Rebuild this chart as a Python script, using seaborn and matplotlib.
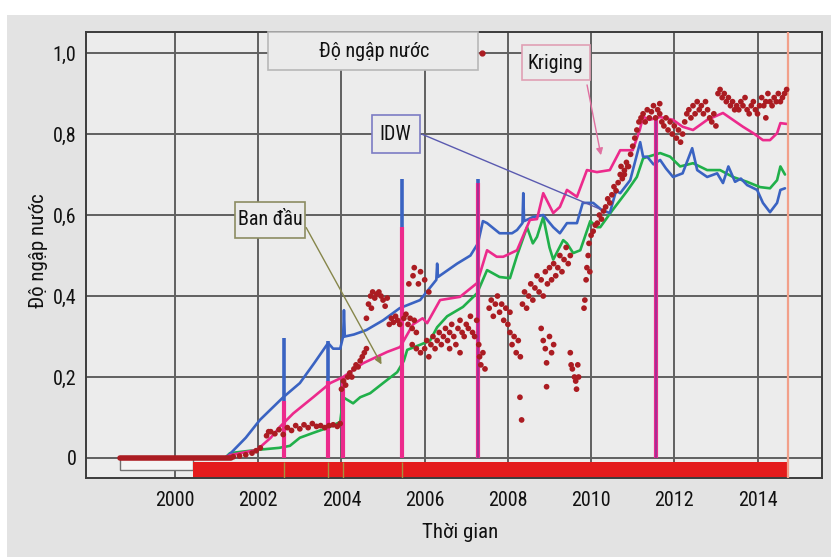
import matplotlib
matplotlib.use("Agg")
import matplotlib.pyplot as plt
import seaborn as sns
import numpy as np
import pandas as pd
from matplotlib.patches import Rectangle
from matplotlib import font_manager as fm

# ---------------- data ----------------
idw_t = [1998.68, 2001.2, 2001.32, 2001.7, 2002.04, 2002.4, 2002.6, 2003.0, 2003.35, 2003.68,
         2003.8, 2003.97, 2004.04, 2004.06, 2004.08, 2004.3, 2004.6, 2005.0, 2005.4, 2005.89,
         2006.28, 2006.3, 2006.32, 2006.78, 2007.1, 2007.28, 2007.4, 2007.5, 2007.8, 2008.1,
         2008.22, 2008.35, 2008.37, 2008.39, 2008.6, 2008.85, 2009.09, 2009.25, 2009.42, 2009.66,
         2009.8, 2010.05, 2010.26, 2010.45, 2010.6, 2010.7, 2010.94, 2011.18, 2011.25, 2011.35,
         2011.5, 2011.66, 2011.8, 2011.97, 2012.2, 2012.43, 2012.55, 2012.79, 2013.03, 2013.17,
         2013.3, 2013.46, 2013.6, 2013.75, 2013.99, 2014.13, 2014.3, 2014.47, 2014.55, 2014.66]
idw_v = [0.0, 0.0, 0.01, 0.05, 0.094, 0.13, 0.15, 0.185, 0.235, 0.284,
         0.27, 0.27, 0.30, 0.365, 0.30, 0.305, 0.316, 0.34, 0.37, 0.39,
         0.44, 0.48, 0.447, 0.48, 0.50, 0.53, 0.585, 0.58, 0.555, 0.555,
         0.563, 0.58, 0.654, 0.585, 0.595, 0.60, 0.57, 0.555, 0.58, 0.58,
         0.63, 0.63, 0.612, 0.605, 0.66, 0.654, 0.686, 0.78, 0.744, 0.744,
         0.725, 0.736, 0.715, 0.694, 0.703, 0.765, 0.711, 0.694, 0.703, 0.679,
         0.72, 0.682, 0.69, 0.674, 0.662, 0.63, 0.607, 0.63, 0.662, 0.666]

ban_t = [1998.68, 2001.2, 2001.32, 2001.97, 2002.5, 2002.76, 2003.0, 2003.32, 2003.68, 2003.97,
         2004.04, 2004.28, 2004.45, 2004.69, 2005.0, 2005.34, 2005.5, 2005.58, 2005.9, 2006.13,
         2006.3, 2006.54, 2006.92, 2007.26, 2007.5, 2007.8, 2008.05, 2008.22, 2008.46, 2008.6,
         2008.7, 2008.85, 2009.0, 2009.09, 2009.33, 2009.42, 2009.57, 2009.74, 2009.98, 2010.14,
         2010.22, 2010.5, 2010.87, 2011.1, 2011.25, 2011.4, 2011.66, 2011.9, 2012.14, 2012.45,
         2012.79, 2013.1, 2013.41, 2013.75, 2014.06, 2014.3, 2014.47, 2014.55, 2014.66]
ban_v = [0.0, 0.0, 0.012, 0.02, 0.025, 0.03, 0.05, 0.062, 0.075, 0.089,
         0.15, 0.135, 0.15, 0.16, 0.185, 0.212, 0.24, 0.267, 0.28, 0.29,
         0.323, 0.35, 0.373, 0.407, 0.464, 0.447, 0.444, 0.50, 0.57, 0.53,
         0.546, 0.595, 0.52, 0.49, 0.538, 0.53, 0.506, 0.513, 0.585, 0.57,
         0.57, 0.61, 0.66, 0.694, 0.74, 0.745, 0.753, 0.744, 0.72, 0.728,
         0.711, 0.711, 0.694, 0.682, 0.669, 0.666, 0.686, 0.72, 0.70]

kri_t = [1998.68, 2001.2, 2001.32, 2001.97, 2002.3, 2002.52, 2002.84, 2003.32, 2003.73, 2004.04,
         2004.52, 2005.1, 2005.41, 2005.72, 2005.95, 2006.06, 2006.37, 2006.85, 2007.26, 2007.5,
         2007.73, 2007.89, 2008.22, 2008.53, 2008.7, 2008.85, 2009.09, 2009.25, 2009.42, 2009.66,
         2009.9, 2010.14, 2010.45, 2010.7, 2011.0, 2011.17, 2011.25, 2011.4, 2011.66, 2011.97,
         2012.2, 2012.45, 2012.79, 2013.17, 2013.41, 2013.65, 2013.9, 2014.13, 2014.3, 2014.47,
         2014.55, 2014.7]
kri_v = [0.0, 0.0, 0.007, 0.02, 0.05, 0.077, 0.11, 0.15, 0.185, 0.20,
         0.234, 0.262, 0.274, 0.33, 0.345, 0.333, 0.39, 0.398, 0.432, 0.513,
         0.497, 0.497, 0.513, 0.588, 0.59, 0.654, 0.605, 0.62, 0.662, 0.645,
         0.711, 0.706, 0.711, 0.76, 0.76, 0.81, 0.843, 0.835, 0.842, 0.835,
         0.818, 0.81, 0.835, 0.852, 0.835, 0.818, 0.802, 0.785, 0.785, 0.802,
         0.827, 0.825]

# vertical spikes (time, pink top, blue top)
spike_t = [2002.62, 2003.68, 2004.04, 2005.45, 2007.28, 2011.55]
spike_pink = [0.14, 0.19, 0.20, 0.57, 0.68, 0.84]
spike_blue = [0.296, 0.29, 0.0, 0.69, 0.69, 0.0]

# observed flood level (red dots)
obs_zero_t = [1998.68, 2001.35]
obs_zero_v = [0.0, 0.0]
obs_t = [2001.4, 2001.55, 2001.7, 2001.85, 2001.95, 2002.05,
         2002.2, 2002.25, 2002.3, 2002.4, 2002.5, 2002.6, 2002.7, 2002.8, 2002.9, 2003.0, 2003.1, 2003.2,
         2003.3, 2003.4, 2003.5, 2003.6, 2003.7, 2003.8, 2003.9, 2003.97,
         2004.0, 2004.05, 2004.1, 2004.15, 2004.2, 2004.25, 2004.3, 2004.35, 2004.4, 2004.45, 2004.5,
         2004.55, 2004.6, 2004.6,
         2004.65, 2004.7, 2004.72, 2004.75, 2004.8, 2004.85, 2004.9, 2004.95, 2005.0, 2005.05, 2005.1,
         2005.15, 2005.2, 2005.25, 2005.3, 2005.35, 2005.4, 2005.5, 2005.55, 2005.6, 2005.65, 2005.7,
         2005.75, 2005.8,
         2005.62, 2005.72, 2005.75, 2005.85, 2005.9, 2006.0, 2006.1,
         2005.7, 2005.8, 2005.9, 2006.0, 2006.05, 2006.1, 2006.15, 2006.2, 2006.25, 2006.3, 2006.35,
         2006.4, 2006.45, 2006.5, 2006.55, 2006.6, 2006.65, 2006.7, 2006.75, 2006.8, 2006.85, 2006.9,
         2006.95, 2007.0, 2007.05, 2007.1, 2007.15, 2007.2, 2007.25, 2007.3, 2007.32, 2007.35, 2007.4,
         2007.45, 2006.6, 2006.85,
         2007.55, 2007.6, 2007.65, 2007.7, 2007.75, 2007.8, 2007.85, 2007.9, 2007.95, 2008.0, 2008.05,
         2008.05, 2008.1, 2008.15, 2008.2, 2008.25, 2008.3, 2008.29, 2008.33,
         2008.35, 2008.4, 2008.45, 2008.5, 2008.55, 2008.6, 2008.65, 2008.7, 2008.75, 2008.8, 2008.85,
         2008.9, 2008.95, 2009.0, 2009.05, 2009.1, 2009.15,
         2008.8, 2008.85, 2008.9, 2009.0, 2009.05, 2009.1, 2008.93, 2008.93,
         2009.2, 2009.25, 2009.3, 2009.35, 2009.4, 2009.45, 2009.5,
         2009.5, 2009.52, 2009.55, 2009.6, 2009.63, 2009.65, 2009.7, 2009.68, 2009.83, 2009.85,
         2009.88, 2009.9, 2009.93, 2009.95, 2010.0, 2009.97,
         2010.05, 2010.1, 2010.15, 2010.2, 2010.25, 2010.3, 2010.35, 2010.4, 2010.45, 2010.5, 2010.55,
         2010.6, 2010.65, 2010.7, 2010.75, 2010.8, 2010.85, 2010.9, 2010.95, 2011.0, 2011.05, 2011.1,
         2011.15, 2011.2, 2010.72, 2010.8, 2010.88,
         2011.25, 2011.3, 2011.35, 2011.4, 2011.45, 2011.5, 2011.55, 2011.6, 2011.65, 2011.7, 2011.75,
         2011.8, 2011.85, 2011.9, 2011.95, 2012.0, 2012.05, 2012.1, 2012.15, 2012.2, 2011.65,
         2012.25, 2012.3, 2012.35, 2012.4, 2012.45, 2012.5, 2012.55, 2012.6, 2012.65, 2012.7, 2012.75,
         2012.8, 2012.85, 2012.9, 2012.95, 2013.0,
         2013.05, 2013.1, 2013.15, 2013.2, 2013.25, 2013.3, 2013.35, 2013.4, 2013.45, 2013.5, 2013.55,
         2013.6, 2013.65, 2013.7, 2013.75, 2013.8, 2013.85, 2013.9, 2013.95, 2014.0, 2014.05, 2014.1,
         2014.15, 2014.2, 2014.25, 2014.3, 2014.35, 2014.4, 2014.45, 2014.5, 2014.55, 2014.6, 2014.65,
         2014.7, 2014.2]
obs_v = [0.003, 0.005, 0.008, 0.012, 0.018, 0.025,
         0.055, 0.065, 0.065, 0.06, 0.07, 0.058, 0.075, 0.068, 0.08, 0.072, 0.082, 0.075,
         0.085, 0.078, 0.08, 0.075, 0.08, 0.082, 0.078, 0.085,
         0.17, 0.19, 0.18, 0.2, 0.21, 0.2, 0.22, 0.23, 0.225, 0.24, 0.25,
         0.26, 0.27, 0.345,
         0.38, 0.40, 0.37, 0.41, 0.395, 0.405, 0.41, 0.40, 0.39, 0.375, 0.395,
         0.33, 0.345, 0.335, 0.35, 0.34, 0.33, 0.345, 0.355, 0.33, 0.345, 0.32,
         0.34, 0.31,
         0.43, 0.45, 0.47, 0.43, 0.46, 0.44, 0.41,
         0.28, 0.27, 0.26, 0.27, 0.29, 0.25, 0.28, 0.30, 0.27, 0.29, 0.31,
         0.28, 0.30, 0.32, 0.29, 0.31, 0.33, 0.30, 0.28, 0.32, 0.34, 0.31,
         0.30, 0.33, 0.32, 0.35, 0.31, 0.30, 0.34, 0.28, 0.25, 0.23, 0.26,
         0.22, 0.27, 0.26,
         0.37, 0.39, 0.35, 0.38, 0.40, 0.36, 0.38, 0.34, 0.37, 0.33, 0.36,
         0.31, 0.28, 0.30, 0.26, 0.29, 0.25, 0.15, 0.094,
         0.38, 0.41, 0.37, 0.40, 0.43, 0.39, 0.42, 0.45, 0.41, 0.44, 0.40,
         0.46, 0.43, 0.47, 0.44, 0.48, 0.45,
         0.32, 0.29, 0.27, 0.30, 0.26, 0.28, 0.235, 0.176,
         0.47, 0.50, 0.46, 0.49, 0.52, 0.48, 0.50,
         0.26, 0.23, 0.22, 0.20, 0.19, 0.17, 0.20, 0.23, 0.37, 0.39,
         0.44, 0.47, 0.50, 0.53, 0.55, 0.46,
         0.56, 0.575, 0.58, 0.60, 0.59, 0.61, 0.62, 0.64, 0.63, 0.65, 0.67,
         0.66, 0.68, 0.70, 0.69, 0.71, 0.73, 0.72, 0.75, 0.77, 0.79, 0.81,
         0.83, 0.84, 0.72, 0.70, 0.72,
         0.85, 0.83, 0.86, 0.84, 0.855, 0.87, 0.84, 0.86, 0.85, 0.83, 0.82,
         0.84, 0.81, 0.83, 0.80, 0.82, 0.79, 0.81, 0.78, 0.80, 0.875,
         0.83, 0.85, 0.86, 0.84, 0.87, 0.85, 0.88, 0.86, 0.87, 0.85, 0.88,
         0.86, 0.84, 0.83, 0.85, 0.82,
         0.90, 0.91, 0.89, 0.90, 0.88, 0.89, 0.87, 0.88, 0.86, 0.87, 0.86,
         0.88, 0.87, 0.89, 0.86, 0.85, 0.87, 0.88, 0.86, 0.85, 0.87, 0.89,
         0.87, 0.88, 0.90, 0.88, 0.87, 0.89, 0.88, 0.90, 0.88, 0.89, 0.90,
         0.91, 0.84]

# availability bars
bar_white = (1998.68, 2000.43)
bar_red = (2000.43, 2014.74)
end_line_t = 2014.74

x_ticks = [2000, 2002, 2004, 2006, 2008, 2010, 2012, 2014]
y_ticks = [0, 0.2, 0.4, 0.6, 0.8, 1.0]
y_tick_labels = ["0", "0,2", "0,4", "0,6", "0,8", "1,0"]

# ---------------- style ----------------
sns.set_theme(style="white")

# pick a narrow / condensed face if one is installed
family, stretch = "Liberation Sans", "normal"
faces = fm.fontManager.ttflist
names = {f.name for f in faces}
found = False
for nm in ["Liberation Sans Narrow", "Roboto Condensed", "Open Sans Condensed", "Noto Sans Condensed",
           "DejaVu Sans Condensed"]:
    if nm in names:
        family, found = nm, True
        break
if not found:
    for f in faces:
        st = str(f.stretch).lower()
        if ("condensed" in st or st in ("600", "700")) and f.style == "normal" and "Mono" not in f.name \
                and "Serif" not in f.name and "CJK" not in f.name:
            family, stretch, found = f.name, f.stretch, True
            break
if not found:
    for f in faces:
        if ("Condensed" in f.name or "Narrow" in f.name) and "Mono" not in f.name:
            family, found = f.name, True
            break
plt.rcParams["font.family"] = [family, "DejaVu Sans"]
plt.rcParams["font.stretch"] = stretch

C_BLUE = "#3a63c2"
C_GREEN = "#20b04a"
C_PINK = "#ec2a8c"
C_PURPLE = "#9a3096"
C_DOT = "#ab1c22"
C_RED = "#e41b1c"

FS = 14.5 if found else 13

fig = plt.figure(figsize=(8.31, 5.57), dpi=100)
fig.patch.set_facecolor("white")
fig.add_artist(Rectangle((7 / 831, 0), 1, 1 - 15 / 557, transform=fig.transFigure,
                         facecolor="#e3e3e3", edgecolor="none", zorder=-10))

ax = fig.add_axes([86 / 831, 1 - 478 / 557, 736 / 831, 446 / 557])
ax.set_facecolor("#ececec")

# bars below zero
ax.barh(y=-0.0148, width=bar_white[1] - bar_white[0], left=bar_white[0], height=0.0296,
        color="#f4f4f4", edgecolor="#707070", linewidth=1.0, zorder=2)
ax.barh(y=-0.0296, width=bar_red[1] - bar_red[0], left=bar_red[0], height=0.04,
        color=C_RED, edgecolor="none", zorder=2)
ax.vlines(spike_t[:4], -0.049, -0.01, color="#a89040", lw=1.0, zorder=3)

# model lines
sns.lineplot(x=ban_t, y=ban_v, ax=ax, color=C_GREEN, lw=1.9, estimator=None, sort=False, zorder=4)
sns.lineplot(x=idw_t, y=idw_v, ax=ax, color=C_BLUE, lw=1.9, estimator=None, sort=False, zorder=5)
sns.lineplot(x=kri_t, y=kri_v, ax=ax, color=C_PINK, lw=1.9, estimator=None, sort=False, zorder=6)

# spikes
bt = [t for t, b in zip(spike_t, spike_blue) if b > 0]
bv = [b for b in spike_blue if b > 0]
ax.vlines(bt, 0, bv, color=C_BLUE, lw=2.6, zorder=6)
ax.vlines(spike_t, 0, spike_pink, color=C_PINK, lw=3.0, zorder=7)
ax.vlines(spike_t[-2:], 0, spike_pink[-2:], color=C_PURPLE, lw=1.2, zorder=7)

# observed
sns.lineplot(x=obs_zero_t, y=obs_zero_v, ax=ax, color=C_DOT, lw=4, estimator=None, zorder=8)
sns.scatterplot(x=obs_t, y=obs_v, ax=ax, color=C_DOT, s=17, edgecolor="none", zorder=9)

ax.axvline(end_line_t, color="#f2a08a", lw=1.6, zorder=8)

# axes
ax.set_xlim(1997.86, 2015.55)
ax.set_ylim(-0.0494, 1.052)
ax.set_xticks(x_ticks)
ax.set_xticklabels([str(x) for x in x_ticks])
ax.set_yticks(y_ticks)
ax.set_yticklabels(y_tick_labels)
ax.tick_params(axis="both", length=0, labelsize=FS, colors="#111111")
ax.tick_params(axis="x", pad=9)
ax.tick_params(axis="y", pad=7)
ax.grid(True, color="#606060", lw=1.4)
ax.set_axisbelow(True)
for s in ax.spines.values():
    s.set_color("#3c3c3c")
    s.set_linewidth(1.4)

ax.set_xlabel("Thời gian", fontsize=FS + 0.5, color="#111111")
ax.set_ylabel("Độ ngập nước", fontsize=FS + 0.5, color="#111111")
ax.xaxis.set_label_coords(0.508, -0.123)
ax.xaxis.label.set_va("center")
ax.yaxis.set_label_coords(-0.064, 0.51)
ax.yaxis.label.set_va("center")

# annotation boxes
def box(x0, x1, y0, y1, ec, text, tx, ty):
    ax.add_patch(Rectangle((x0, y0), x1 - x0, y1 - y0, facecolor="#ebebeb",
                           edgecolor=ec, lw=1.2, zorder=10, clip_on=False))
    ax.text(tx, ty, text, ha="center", va="center", fontsize=FS, color="#111111", zorder=11)

box(2002.23, 2007.28, 0.958, 1.052, "#b8b8b8", "Độ ngập nước", 2004.78, 1.003)
ax.plot([2007.37], [1.0], "o", color=C_DOT, ms=3.5, zorder=11)
box(2008.33, 2009.97, 0.933, 1.02, "#e0a0b4", "Kriging", 2009.15, 0.975)
box(2004.73, 2005.88, 0.753, 0.847, "#7c7cc4", "IDW", 2005.3, 0.80)
box(2001.44, 2003.12, 0.543, 0.632, "#8c8c62", "Ban đầu", 2002.28, 0.588)

ax.annotate("", xy=(2010.25, 0.741), xytext=(2009.89, 0.928),
            arrowprops=dict(arrowstyle="-|>", color="#e070a0", lw=1.0, mutation_scale=10), zorder=12)
ax.annotate("", xy=(2010.28, 0.612), xytext=(2005.88, 0.802),
            arrowprops=dict(arrowstyle="-", color="#5a5ab0", lw=1.0), zorder=12)
ax.annotate("", xy=(2004.995, 0.225), xytext=(2003.12, 0.575),
            arrowprops=dict(arrowstyle="-|>", color="#86864a", lw=1.0, mutation_scale=10), zorder=12)

fig.savefig("out.png", dpi=100, facecolor=fig.get_facecolor())
